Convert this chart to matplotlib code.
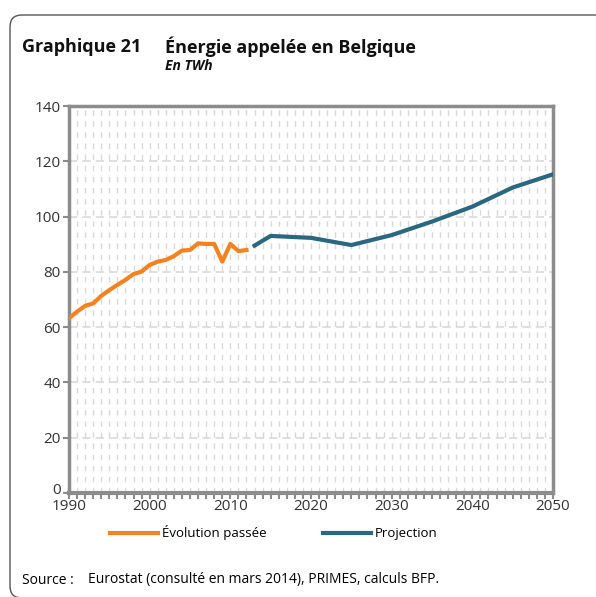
import matplotlib.pyplot as plt
import matplotlib.transforms as mtransforms
from matplotlib.patches import FancyBboxPatch
from matplotlib.lines import Line2D

# Données (TWh)
years_hist = list(range(1990, 2013))
val_hist = [63.2, 65.6, 67.7, 68.6, 71.3, 73.4, 75.3, 77.1, 79.2, 80.1,
            82.5, 83.7, 84.3, 85.7, 87.7, 87.9, 90.3, 90.1, 90.1, 83.7,
            90.1, 87.5, 87.9]
years_proj = [2013, 2015, 2020, 2025, 2030, 2035, 2040, 2045, 2050]
val_proj = [89.5, 93.0, 92.3, 89.7, 93.3, 98.2, 103.6, 110.5, 115.3]

orange = '#F58220'
blue = '#2B6880'
axis_gray = '#8C8C8C'
grid_gray = '#D9D9D9'

plt.rcParams['font.family'] = ['Open Sans', 'DejaVu Sans']

fig = plt.figure(figsize=(5.96, 5.97), dpi=100)

# cadre arrondi
frame = FancyBboxPatch((10 / 596, 1 - 598 / 597), 620 / 596, 583 / 597,
                       boxstyle='round,pad=0,rounding_size=0.02',
                       transform=fig.transFigure, fill=False,
                       edgecolor='#555555', linewidth=1.0)
fig.patches.append(frame)

ax = fig.add_axes([69 / 596, 1 - 493 / 597, 484 / 596, 387 / 597])
ax.plot(years_hist, val_hist, color=orange, lw=3, solid_joinstyle='round', zorder=3)
ax.plot(years_proj, val_proj, color=blue, lw=3, solid_joinstyle='round', zorder=3)

ax.set_xlim(1990, 2050)
ax.set_ylim(0, 140)
ax.set_xticks(range(1990, 2051, 10))
ax.set_xticks(range(1990, 2051, 1), minor=True)
ax.set_yticks(range(0, 141, 20))

for x in range(1991, 2050):
    ax.axvline(x, color=grid_gray, lw=1, ls=(0, (4, 4)), zorder=1)
for y in range(20, 141, 20):
    ax.axhline(y, color=grid_gray, lw=1.2, ls=(0, (5, 3)), zorder=1)

for s in ax.spines.values():
    s.set_color(axis_gray)
    s.set_linewidth(2.5)
ax.spines['bottom'].set_linewidth(3)

ax.tick_params(axis='x', which='major', length=4, width=1.5, color=axis_gray,
               labelsize=11, pad=0, labelcolor='#333333')
ax.tick_params(axis='x', which='minor', length=4, width=1.5, color=axis_gray)
ax.tick_params(axis='y', which='major', length=4, width=1.5, color=axis_gray,
               labelsize=11, pad=2, labelcolor='#333333')

# le "0" est un peu remonté comme dans l'original
fig.canvas.draw()
shift = mtransforms.ScaledTranslation(0, 5 / 100, fig.dpi_scale_trans)
lab0 = ax.get_yticklabels()[0]
lab0.set_transform(lab0.get_transform() + shift)

# titres
fig.text(22 / 596, 1 - 47 / 597, 'Graphique 21', fontsize=13, fontweight='bold',
         va='center', ha='left', color='#111111')
fig.text(165 / 596, 1 - 47 / 597, 'Énergie appelée en Belgique', fontsize=13,
         fontweight='bold', va='center', ha='left', color='#111111')
fig.text(165 / 596, 1 - 66 / 597, 'En TWh', fontsize=10, fontweight='bold',
         style='italic', va='center', ha='left', color='#111111')

# légende
handles = [Line2D([], [], color=orange, lw=3), Line2D([], [], color=blue, lw=3)]
fig.legend(handles, ['Évolution passée', 'Projection'], loc='center',
           bbox_to_anchor=(274 / 596, 1 - 533 / 597), ncol=2, frameon=False,
           fontsize=9.5, handlelength=3.6, handletextpad=0.3, columnspacing=4.3)

fig.text(22 / 596, 1 - 580 / 597, 'Source :', fontsize=10, va='center', ha='left')
fig.text(88 / 596, 1 - 580 / 597, 'Eurostat (consulté en mars 2014), PRIMES, calculs BFP.',
         fontsize=10, va='center', ha='left')

fig.savefig('out.png', dpi=100)
